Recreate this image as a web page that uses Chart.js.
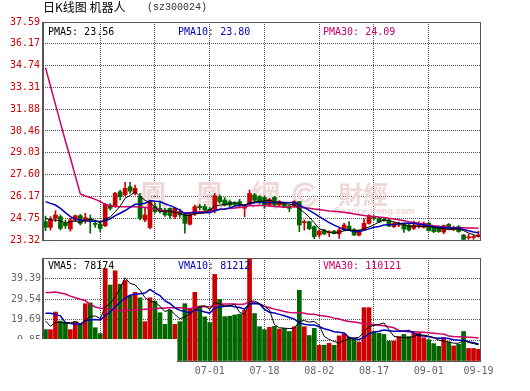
<!DOCTYPE html>
<html>
<head>
<meta charset="utf-8">
<script src="https://cdn.jsdelivr.net/npm/chart.js@4.4.0/dist/chart.umd.min.js"></script>
<style>
  html, body { margin: 0; padding: 0; background: #fff; }
  #wrap { position: relative; width: 530px; height: 391px; overflow: hidden; }
  canvas { position: absolute; left: 0; }
  #priceCanvas { top: 0; }
  #volCanvas { top: 250px; }
  .lbl { position: absolute; font: 10px "DejaVu Sans Mono", monospace; line-height: 12px; white-space: pre; }
  #title { position: absolute; left: 43px; top: 0; font: 12px "Noto Sans CJK SC", sans-serif; line-height: 14px; color: #000; }
  #code { position: absolute; left: 147px; top: 1px; font: 10px "Liberation Mono", monospace; line-height: 14px; color: #333; }
</style>
</head>
<body>
<div id="wrap">
  <canvas id="priceCanvas" width="530" height="250"></canvas>
  <canvas id="volCanvas" width="530" height="141"></canvas>
  <div id="title">日K线图 机器人</div>
  <div id="code">(sz300024)</div>
  <div class="lbl" style="left:48px;top:26px;color:#000">PMA5: 23.56</div>
  <div class="lbl" style="left:178px;top:26px;color:#0000bb">PMA10: 23.80</div>
  <div class="lbl" style="left:323px;top:26px;color:#cc0066">PMA30: 24.09</div>
  <div class="lbl" style="left:48px;top:260px;color:#000">VMA5: 78174</div>
  <div class="lbl" style="left:178px;top:260px;color:#0000bb">VMA10: 81212</div>
  <div class="lbl" style="left:323px;top:260px;color:#cc0066">VMA30: 110121</div>
</div>
<script>
// trading days (2016), one per candle
const dates = [
  '05-13','05-16','05-17','05-18','05-19','05-20','05-23','05-24','05-25','05-26','05-27','05-30','05-31',
  '06-01','06-02','06-03','06-06','06-07','06-08','06-13','06-14','06-15','06-16','06-17','06-20','06-21',
  '06-22','06-23','06-24','06-27','06-28','06-29','06-30',
  '07-01','07-04','07-05','07-06','07-07','07-08','07-11','07-12','07-13','07-14','07-15','07-18','07-19',
  '07-20','07-21','07-22','07-25','07-26','07-27','07-28','07-29',
  '08-01','08-02','08-03','08-04','08-05','08-08','08-09','08-10','08-11','08-12','08-15','08-16','08-17',
  '08-18','08-19','08-22','08-23','08-24','08-25','08-26','08-29','08-30','08-31',
  '09-01','09-02','09-05','09-06','09-07','09-08','09-09','09-12','09-13','09-14','09-19'
];

// K线 prix
const opens = [
  24.52, 24.15, 24.74, 24.85, 24.41, 24.04, 24.63, 24.91, 24.59, 24.72,
  24.41, 24.37, 24.26, 25.61, 25.50, 26.48, 26.27, 26.81, 26.37, 26.16,
  24.63, 24.13, 25.50, 25.39, 25.28, 25.39, 24.85, 25.17, 25.00, 24.35,
  25.00, 25.52, 25.50, 25.35, 25.22, 26.16, 25.94, 25.83, 25.75, 25.83,
  25.40, 25.66, 26.27, 26.16, 26.11, 25.61, 26.11, 25.61, 25.66, 25.55,
  25.50, 25.83, 24.45, 24.52, 24.19, 23.65, 23.97, 23.80, 23.90, 23.72,
  23.99, 24.23, 24.01, 23.63, 23.97, 24.41, 24.85, 24.74, 24.67, 24.63,
  24.19, 24.30, 24.34, 24.30, 24.08, 24.26, 24.15, 24.41, 24.19, 24.19,
  23.84, 24.34, 24.00, 24.19, 23.65, 23.46, 23.48, 23.54
];
const highs = [
  24.89, 24.85, 25.24, 24.96, 24.63, 24.74, 24.96, 25.00, 25.07, 24.96,
  24.55, 24.55, 25.72, 25.70, 26.44, 26.59, 27.10, 27.10, 26.92, 26.37,
  25.43, 25.87, 25.72, 25.83, 25.39, 25.43, 25.43, 25.35, 25.13, 25.07,
  25.61, 25.66, 25.65, 25.45, 26.37, 26.27, 26.10, 25.94, 25.83, 25.98,
  25.65, 26.59, 26.37, 26.22, 26.22, 26.05, 26.18, 25.90, 25.72, 25.61,
  25.90, 25.85, 24.63, 24.55, 24.25, 24.00, 24.03, 23.93, 23.95, 24.08,
  24.41, 24.52, 24.06, 23.97, 24.72, 24.96, 24.90, 24.80, 24.74, 24.68,
  24.50, 24.50, 24.40, 24.35, 24.55, 24.52, 24.50, 24.50, 24.23, 24.26,
  24.30, 24.40, 24.23, 24.26, 23.68, 23.72, 23.62, 23.90
];
const lows = [
  23.93, 23.97, 24.52, 23.97, 24.08, 23.90, 24.52, 24.30, 24.41, 23.76,
  24.15, 23.87, 24.19, 25.28, 25.46, 25.94, 26.22, 26.37, 26.27, 24.63,
  24.52, 24.05, 25.07, 25.07, 24.87, 24.74, 24.74, 24.80, 23.76, 24.30,
  24.92, 25.28, 25.15, 25.12, 25.10, 25.72, 25.55, 25.50, 25.55, 25.46,
  24.85, 25.61, 25.81, 25.70, 25.39, 25.57, 25.55, 25.55, 25.45, 25.17,
  25.45, 23.87, 23.97, 24.00, 23.40, 23.50, 23.68, 23.54, 23.72, 23.43,
  23.95, 23.93, 23.61, 23.58, 23.93, 24.35, 24.63, 24.45, 24.55, 24.19,
  24.12, 24.20, 23.82, 23.90, 24.00, 24.10, 24.10, 23.90, 23.80, 23.82,
  23.72, 24.03, 23.93, 23.82, 23.33, 23.36, 23.36, 23.50
];
const closes = [
  24.15, 24.69, 24.96, 24.08, 24.25, 24.63, 24.91, 24.41, 24.78, 24.63,
  24.34, 24.08, 25.66, 25.39, 26.37, 26.16, 26.70, 26.52, 26.70, 24.74,
  24.96, 25.83, 25.17, 25.20, 24.96, 24.91, 25.39, 24.96, 24.41, 25.00,
  25.50, 25.44, 25.28, 25.22, 26.22, 25.83, 25.61, 25.61, 25.63, 25.57,
  25.57, 26.37, 25.92, 25.83, 25.61, 25.97, 25.61, 25.83, 25.50, 25.39,
  25.83, 24.30, 24.52, 24.06, 23.54, 23.90, 23.72, 23.87, 23.76, 23.97,
  24.30, 23.97, 23.65, 23.93, 24.41, 24.89, 24.74, 24.50, 24.60, 24.23,
  24.41, 24.41, 24.04, 23.97, 24.30, 24.32, 24.41, 23.93, 23.87, 23.87,
  24.26, 24.08, 24.10, 23.87, 23.36, 23.50, 23.52, 23.65
];

// moyennes mobiles du prix
const pma5 = [
  24.74, 24.63, 24.63, 24.58, 24.43, 24.52, 24.57, 24.46, 24.60, 24.67,
  24.61, 24.45, 24.70, 24.82, 25.17, 25.53, 26.06, 26.23, 26.49, 26.16,
  25.92, 25.75, 25.48, 25.18, 25.22, 25.21, 25.13, 25.08, 24.93, 24.93,
  25.05, 25.06, 25.13, 25.29, 25.53, 25.60, 25.63, 25.70, 25.78, 25.65,
  25.60, 25.75, 25.81, 25.85, 25.86, 25.94, 25.79, 25.77, 25.70, 25.66,
  25.63, 25.37, 25.11, 24.82, 24.45, 24.06, 23.95, 23.82, 23.76, 23.84,
  23.92, 23.97, 23.93, 23.96, 24.05, 24.17, 24.32, 24.49, 24.63, 24.59,
  24.50, 24.43, 24.34, 24.21, 24.23, 24.21, 24.21, 24.19, 24.17, 24.08,
  24.07, 24.00, 24.04, 24.04, 23.93, 23.78, 23.67, 23.56
];
const pma10 = [
  25.83, 25.72, 25.61, 25.39, 25.11, 24.85, 24.67, 24.63, 24.58, 24.55,
  24.57, 24.51, 24.58, 24.71, 24.92, 25.07, 25.25, 25.46, 25.66, 25.67,
  25.73, 25.90, 25.85, 25.84, 25.69, 25.57, 25.44, 25.28, 25.05, 25.08,
  25.13, 25.09, 25.11, 25.11, 25.23, 25.33, 25.35, 25.41, 25.53, 25.59,
  25.60, 25.69, 25.76, 25.82, 25.76, 25.77, 25.77, 25.79, 25.78, 25.76,
  25.79, 25.58, 25.44, 25.26, 25.06, 24.85, 24.66, 24.46, 24.29, 24.15,
  23.99, 23.96, 23.87, 23.86, 23.95, 24.05, 24.15, 24.21, 24.30, 24.32,
  24.33, 24.38, 24.42, 24.42, 24.41, 24.35, 24.32, 24.26, 24.19, 24.15,
  24.14, 24.11, 24.11, 24.10, 24.01, 23.93, 23.84, 23.80
];
const pma30 = [
  34.60, 33.40, 32.20, 31.00, 29.80, 28.70, 27.50, 26.33, 26.20, 26.10,
  25.98, 25.83, 25.65, 25.55, 25.52, 25.50, 25.50, 25.50, 25.50, 25.48,
  25.45, 25.42, 25.35, 25.28, 25.22, 25.18, 25.15, 25.12, 25.10, 25.10,
  25.14, 25.17, 25.18, 25.22, 25.28, 25.32, 25.35, 25.39, 25.41, 25.45,
  25.49, 25.56, 25.57, 25.59, 25.56, 25.55, 25.52, 25.50, 25.46, 25.48,
  25.51, 25.45, 25.43, 25.40, 25.35, 25.31, 25.26, 25.22, 25.20, 25.17,
  25.13, 25.08, 25.02, 24.98, 24.92, 24.89, 24.86, 24.82, 24.79, 24.74,
  24.70, 24.64, 24.58, 24.51, 24.47, 24.42, 24.38, 24.31, 24.26, 24.21,
  24.16, 24.15, 24.13, 24.13, 24.12, 24.11, 24.10, 24.09
];

// volume en 万手
const volumes = [
  15.0, 15.0, 23.4, 19.1, 18.4, 15.0, 18.8, 17.5, 27.4, 27.8,
  15.9, 13.1, 44.2, 36.3, 43.1, 36.7, 38.5, 31.0, 32.8, 30.2,
  18.8, 30.2, 28.6, 23.1, 17.5, 24.2, 17.5, 18.8, 27.4, 24.8,
  32.8, 26.3, 21.1, 18.4, 41.4, 29.4, 21.2, 21.4, 22.0, 22.4,
  24.2, 52.0, 22.7, 16.4, 15.0, 16.1, 16.6, 15.3, 15.6, 14.1,
  16.4, 33.8, 16.4, 12.2, 15.6, 7.5, 7.5, 8.5, 7.5, 12.0,
  13.0, 11.4, 11.0, 9.1, 25.5, 25.5, 14.1, 13.3, 12.7, 9.5,
  9.5, 11.7, 12.7, 11.7, 13.3, 13.3, 11.1, 10.2, 8.3, 7.0,
  11.1, 9.1, 7.2, 8.0, 14.1, 6.0, 6.0, 5.6
];
const vma5 = [
  19.2, 16.6, 18.4, 18.4, 18.2, 18.2, 18.9, 17.8, 19.4, 21.3,
  21.5, 20.3, 25.7, 27.5, 30.5, 34.7, 39.8, 37.1, 36.4, 33.8,
  30.3, 28.6, 28.1, 26.2, 23.6, 24.7, 22.2, 20.2, 21.1, 22.5,
  24.3, 26.0, 26.5, 24.7, 28.0, 27.3, 26.3, 26.4, 27.1, 23.3,
  22.2, 28.4, 28.7, 27.5, 26.1, 24.4, 17.4, 15.9, 15.7, 15.5,
  15.6, 19.0, 19.3, 18.6, 18.9, 17.1, 11.8, 10.3, 9.3, 8.6,
  9.7, 10.5, 11.0, 11.3, 14.0, 16.5, 17.0, 17.5, 18.2, 15.0,
  11.8, 11.3, 11.2, 11.0, 11.8, 12.5, 12.4, 11.9, 11.2, 10.0,
  9.5, 9.1, 8.5, 8.5, 9.9, 8.9, 8.3, 7.82
];
const vma10 = [
  22.8, 22.8, 22.3, 21.6, 18.4, 17.9, 17.7, 17.4, 19.2, 19.7,
  19.8, 19.6, 21.7, 23.4, 25.9, 28.1, 30.1, 31.4, 31.9, 32.2,
  32.5, 34.2, 32.6, 31.3, 28.7, 27.5, 25.4, 24.2, 23.6, 23.1,
  24.5, 24.1, 23.4, 22.9, 25.3, 25.8, 26.2, 26.4, 25.9, 25.6,
  24.8, 27.4, 27.5, 27.3, 24.7, 23.3, 22.9, 22.3, 21.6, 20.8,
  20.0, 18.2, 17.6, 17.2, 17.2, 16.4, 15.4, 14.8, 14.0, 13.7,
  13.4, 11.2, 10.6, 10.3, 11.3, 13.1, 13.8, 14.2, 14.8, 14.5,
  14.2, 14.2, 14.4, 14.6, 13.4, 12.2, 11.9, 11.6, 11.1, 10.9,
  11.0, 10.8, 10.2, 9.9, 9.9, 9.2, 8.7, 8.12
];
const vma30 = [
  32.7, 32.7, 33.0, 32.5, 32.0, 31.0, 30.2, 29.5, 28.9, 27.0,
  25.8, 25.2, 25.0, 24.7, 24.2, 24.2, 24.2, 24.3, 24.4, 24.5,
  24.7, 24.8, 25.0, 25.2, 25.3, 25.4, 25.5, 25.4, 25.2, 25.0,
  25.6, 26.0, 25.9, 25.9, 26.6, 27.1, 27.2, 27.3, 27.2, 27.0,
  27.2, 28.5, 27.8, 27.2, 26.2, 25.5, 24.8, 24.3, 23.7, 23.2,
  23.1, 23.2, 22.8, 22.4, 22.4, 21.8, 21.5, 21.2, 20.5, 20.1,
  19.4, 18.9, 18.6, 18.3, 17.7, 17.6, 17.4, 17.1, 16.8, 16.4,
  15.9, 14.5, 14.2, 14.0, 14.0, 13.9, 13.7, 13.5, 13.3, 13.0,
  12.9, 12.0, 11.7, 11.6, 11.5, 11.4, 11.2, 11.01
];

// graduations des axes
const priceTicks = [23.32, 24.75, 26.17, 27.60, 29.03, 30.46, 31.88, 33.31, 34.74, 36.17, 37.59];
const volTicks = [0, 9.85, 19.69, 29.54, 39.39, 49.24];
const gridStep = 11; // une ligne verticale tous les 11 jours

const upColor = '#cc0000';
const downColor = '#006600';
const gridColor = '#555555';
const monoFont = { family: 'DejaVu Sans Mono', size: 10 };

// rouge si clôture >= ouverture, vert sinon
function barColor(ctx) {
  const i = ctx.dataIndex;
  return closes[i] >= opens[i] ? upColor : downColor;
}

function maLine(data, color, width) {
  return {
    type: 'line', data: data, borderColor: color, borderWidth: width,
    pointRadius: 0, tension: 0, order: 0
  };
}

// lignes verticales pointillées, posées sur l'échelle x
const vGridPlugin = {
  id: 'vgrid',
  beforeDatasetsDraw(chart) {
    const { ctx, chartArea: a } = chart;
    const x = chart.scales.x;
    ctx.save();
    ctx.strokeStyle = gridColor;
    ctx.lineWidth = 1;
    ctx.setLineDash([1, 1]);
    for (let i = gridStep; i < dates.length; i += gridStep) {
      const px = Math.floor(x.getPixelForValue(i)) + 0.5;
      ctx.beginPath();
      ctx.moveTo(px, a.top);
      ctx.lineTo(px, a.bottom);
      ctx.stroke();
    }
    ctx.restore();
  }
};

// cadre gris autour de la zone de tracé
const framePlugin = {
  id: 'frame',
  afterDraw(chart) {
    const { ctx, chartArea: a } = chart;
    ctx.save();
    ctx.strokeStyle = '#555';
    ctx.lineWidth = 1;
    ctx.strokeRect(a.left + 0.5, a.top + 0.5, a.right - a.left - 1, a.bottom - a.top);
    ctx.lineWidth = 2;
    ctx.beginPath();
    ctx.moveTo(a.left, a.top);
    ctx.lineTo(a.left, a.bottom + 1);
    ctx.stroke();
    ctx.restore();
  }
};

// filigrane ifeng derrière les bougies
const watermarkPlugin = {
  id: 'watermark',
  beforeDatasetsDraw(chart) {
    const ctx = chart.ctx;
    ctx.save();
    ctx.fillStyle = '#f0d8d8';
    ctx.font = 'bold 29px "Noto Sans CJK TC"';
    ctx.fillText('鳳', 139, 206);
    ctx.fillText('凰', 195, 206);
    ctx.fillText('網', 251, 206);
    ctx.font = 'bold 25px "Noto Sans CJK TC"';
    ctx.fillText('財經', 338, 204);
    ctx.font = 'bold 8px "DejaVu Sans"';
    ctx.fillText('finance.ifeng.com', 334, 214);
    ctx.strokeStyle = '#f0d8d8';
    ctx.lineWidth = 3;
    [11, 6].forEach(r => {
      ctx.beginPath();
      ctx.arc(305, 195, r, 0.3, Math.PI * 1.8);
      ctx.stroke();
    });
    ctx.restore();
  }
};

new Chart(document.getElementById('priceCanvas'), {
  type: 'bar',
  data: {
    labels: dates,
    datasets: [
      maLine(pma5, '#000000', 1),
      maLine(pma10, '#0000bb', 1.5),
      maLine(pma30, '#cc0066', 1.5),
      {
        data: opens.map((o, i) => [o, closes[i]]),
        backgroundColor: barColor, barThickness: 4, minBarLength: 1,
        grouped: false, order: 1
      },
      {
        data: lows.map((l, i) => [l, highs[i]]),
        backgroundColor: barColor, barThickness: 1,
        grouped: false, order: 2
      }
    ]
  },
  options: {
    responsive: false,
    animation: false,
    layout: { padding: { top: 22, right: 49, bottom: 10, left: 0 } },
    plugins: { legend: { display: false }, tooltip: { enabled: false } },
    scales: {
      x: {
        ticks: { display: false, autoSkip: false },
        grid: { display: false, drawTicks: false },
        border: { display: false }
      },
      y: {
        min: 23.32, max: 37.59,
        afterBuildTicks: s => { s.ticks = priceTicks.map(v => ({ value: v })); },
        afterFit: s => { s.width = 43; },
        ticks: { color: '#cc0000', font: monoFont, padding: 3, callback: v => v.toFixed(2) },
        grid: { drawTicks: false, color: gridColor },
        border: { display: false, dash: [1, 1] }
      }
    }
  },
  plugins: [vGridPlugin, watermarkPlugin, framePlugin]
});

// le bas gauche du panneau volume est masqué en blanc
const coverPlugin = {
  id: 'cover',
  afterDraw(chart) {
    const ctx = chart.ctx;
    ctx.save();
    ctx.fillStyle = '#ffffff';
    ctx.fillRect(0, 89, 177, 52);
    ctx.restore();
  }
};

new Chart(document.getElementById('volCanvas'), {
  type: 'bar',
  data: {
    labels: dates,
    datasets: [
      maLine(vma5, '#000000', 1),
      maLine(vma10, '#0000bb', 1.5),
      maLine(vma30, '#cc0066', 1.5),
      {
        data: volumes,
        backgroundColor: barColor, barThickness: 4,
        grouped: false, order: 1
      }
    ]
  },
  options: {
    responsive: false,
    animation: false,
    layout: { padding: { top: 6, right: 49, bottom: 10, left: 0 } },
    plugins: { legend: { display: false }, tooltip: { enabled: false } },
    scales: {
      x: {
        afterFit: s => { s.height = 20; },
        ticks: {
          autoSkip: false, maxRotation: 0, minRotation: 0, padding: 4,
          color: '#666', font: monoFont,
          callback: (v, i) => (i % gridStep === 0 || i === dates.length - 1) ? dates[i] : ''
        },
        grid: { display: false, drawTicks: false },
        border: { display: false }
      },
      y: {
        min: 0, max: 49.24,
        afterBuildTicks: s => { s.ticks = volTicks.map(v => ({ value: v })); },
        afterFit: s => { s.width = 43; },
        ticks: {
          color: '#666', font: monoFont, padding: 2,
          callback: v => (v > 0 && v < 49) ? v.toFixed(2) : ''
        },
        grid: { drawTicks: false, color: gridColor },
        border: { display: false, dash: [1, 1] }
      }
    }
  },
  plugins: [vGridPlugin, framePlugin, coverPlugin]
});
</script>
</body>
</html>
